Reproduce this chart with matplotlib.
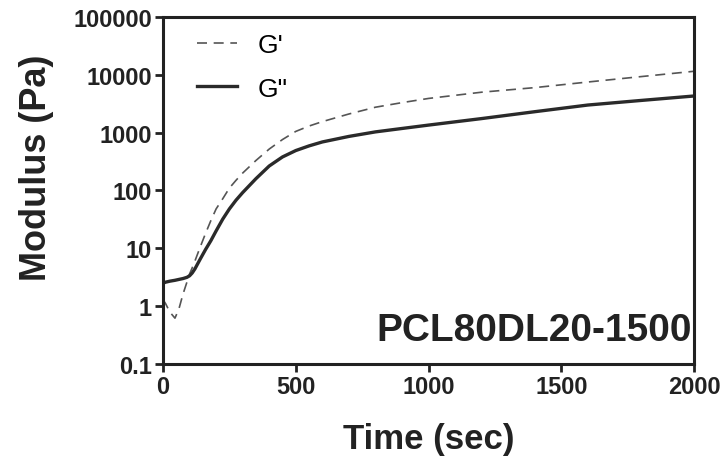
import numpy as np
import matplotlib.pyplot as plt
from matplotlib.ticker import FixedLocator, FixedFormatter, NullLocator

plt.rcParams['font.family'] = ['Liberation Sans', 'DejaVu Sans']

# time (sec) and moduli (Pa)
time_s = [0, 10, 25, 45, 60, 75, 90, 100, 110, 120, 140, 160, 180, 200, 225, 250, 275, 300,
          350, 400, 450, 500, 550, 600, 700, 800, 900, 1000, 1200, 1400, 1600, 1800, 2000]
g_storage = [1.3, 1.1, 0.8, 0.62, 0.9, 1.6, 2.6, 3.6, 4.6, 6, 10.5, 18, 30, 48, 72, 110, 150, 200,
             330, 520, 760, 1050, 1300, 1550, 2100, 2750, 3300, 3900, 5000, 6000, 7500, 9300, 11500]
g_loss = [2.5, 2.6, 2.7, 2.8, 2.9, 3.0, 3.15, 3.35, 3.75, 4.4, 6.5, 9.5, 13.5, 20, 32, 48, 68, 92,
          160, 265, 380, 490, 590, 690, 860, 1030, 1180, 1350, 1750, 2300, 3000, 3600, 4300]

y_ticks = [0.1, 1, 10, 100, 1000, 10000, 100000]
y_labels = ['0.1', '1', '10', '100', '1000', '10000', '100000']
x_ticks = [0, 500, 1000, 1500, 2000]
sample_name = 'PCL80DL20-1500'

fig = plt.figure(figsize=(7.2, 4.6), dpi=100)
ax = fig.add_axes([0.2264, 0.2065, 0.7376, 0.7545])

ax.plot(time_s, g_storage, color='#555555', lw=1.2, linestyle=(0, (6, 4)), label="G'")
ax.plot(time_s, g_loss, color='#2a2a2a', lw=2.4, label='G"')

ax.set_yscale('log')
ax.set_xlim(0, 2000)
ax.set_ylim(0.1, 100000)
ax.yaxis.set_major_locator(FixedLocator(y_ticks))
ax.yaxis.set_major_formatter(FixedFormatter(y_labels))
ax.yaxis.set_minor_locator(NullLocator())
ax.set_xticks(x_ticks)

for s in ax.spines.values():
    s.set_linewidth(2.2)
    s.set_color('#222222')
ax.tick_params(direction='out', length=6, width=2, color='#222222',
               labelsize=17, labelcolor='#222222', pad=2)
for lab in ax.get_xticklabels() + ax.get_yticklabels():
    lab.set_fontweight('bold')

ax.set_xlabel('Time (sec)', fontsize=25, fontweight='bold', color='#222222', labelpad=17)
ax.set_ylabel('Modulus (Pa)', fontsize=26, fontweight='bold', color='#222222')
ax.yaxis.set_label_coords(-0.205, 0.568)

ax.legend(loc='upper left', frameon=False, fontsize=19, handlelength=1.5,
          handletextpad=0.8, labelspacing=0.75, borderaxespad=0.2,
          bbox_to_anchor=(0.035, 1.0))

ax.text(0.995, 0.045, sample_name, transform=ax.transAxes, ha='right', va='bottom',
        fontsize=28, fontweight='bold', color='#222222')

fig.savefig('out.png', dpi=100)
